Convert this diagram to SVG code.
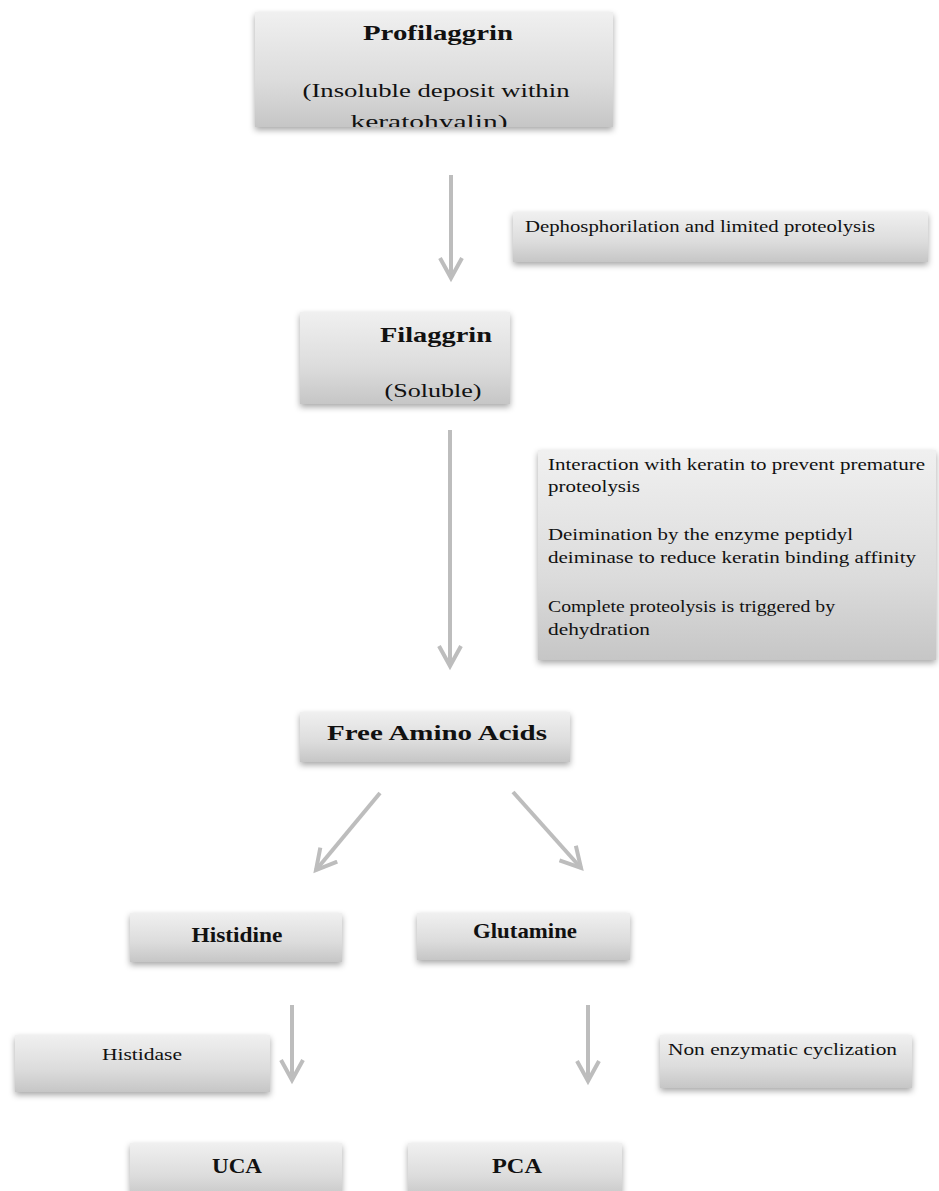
<svg xmlns="http://www.w3.org/2000/svg" width="939" height="1191" viewBox="0 0 939 1191">
<style>
.box{fill:url(#g);filter:url(#sh)}
.t{font-family:"Liberation Serif","Times New Roman",serif;fill:#111}
.b{font-weight:bold;font-size:21px}
.r{font-size:19px}
.s{font-size:16px}
.c{stroke:#bdbdbd;stroke-width:4;fill:none;marker-end:url(#ah)}
</style>
<defs>
<linearGradient id="g" x1="0" y1="0" x2="0" y2="1">
<stop offset="0" stop-color="#f0f0f0"/>
<stop offset="0.6" stop-color="#dcdcdc"/>
<stop offset="1" stop-color="#c6c6c6"/>
</linearGradient>
<filter id="sh" x="-10%" y="-20%" width="120%" height="150%">
<feDropShadow dx="0" dy="3" stdDeviation="3" flood-color="#000" flood-opacity="0.35"/>
</filter>
<marker id="ah" markerUnits="userSpaceOnUse" markerWidth="26" markerHeight="26" viewBox="0 0 26 26" refX="21" refY="13" orient="auto">
<path d="M1,2 L21,13 L1,24" fill="none" stroke="#bdbdbd" stroke-width="4"/>
</marker>
<clipPath id="cp1"><rect x="255" y="12" width="358" height="115"/></clipPath>
</defs>
<g id="connectors">
<line class="c" x1="451" y1="175" x2="451" y2="278"/>
<line class="c" x1="450" y1="430" x2="450" y2="666"/>
<line class="c" x1="380" y1="793" x2="316" y2="870"/>
<line class="c" x1="513" y1="792" x2="581" y2="868"/>
<line class="c" x1="292" y1="1005" x2="292" y2="1080"/>
<line class="c" x1="588" y1="1005" x2="588" y2="1081"/>
</g>
<g id="profilaggrin">
<rect class="box" x="255" y="12" width="358" height="115"/>
<text class="t b" x="438" y="40" text-anchor="middle" textLength="150" lengthAdjust="spacingAndGlyphs">Profilaggrin</text>
<g clip-path="url(#cp1)">
<text class="t r" x="436" y="97" text-anchor="middle" textLength="267" lengthAdjust="spacingAndGlyphs">(Insoluble deposit within</text>
<text class="t r" x="429" y="128" text-anchor="middle" textLength="157" lengthAdjust="spacingAndGlyphs">keratohyalin)</text>
</g>
</g>
<g id="dephos">
<rect class="box" x="513" y="212" width="415" height="50"/>
<text class="t s" x="525" y="232" textLength="350" lengthAdjust="spacingAndGlyphs">Dephosphorilation and limited proteolysis</text>
</g>
<g id="filaggrin">
<rect class="box" x="300" y="312" width="210" height="92"/>
<text class="t b" x="436" y="342" text-anchor="middle" textLength="112" lengthAdjust="spacingAndGlyphs">Filaggrin</text>
<text class="t r" x="433" y="397" text-anchor="middle" textLength="97" lengthAdjust="spacingAndGlyphs">(Soluble)</text>
</g>
<g id="interaction">
<rect class="box" x="538" y="450" width="398" height="210"/>
<text class="t s" x="548" y="470" textLength="377" lengthAdjust="spacingAndGlyphs">Interaction with keratin to prevent premature</text>
<text class="t s" x="548" y="492" textLength="92" lengthAdjust="spacingAndGlyphs">proteolysis</text>
<text class="t s" x="548" y="540" textLength="305" lengthAdjust="spacingAndGlyphs">Deimination by the enzyme peptidyl</text>
<text class="t s" x="548" y="563" textLength="368" lengthAdjust="spacingAndGlyphs">deiminase to reduce keratin binding affinity</text>
<text class="t s" x="548" y="612" textLength="287" lengthAdjust="spacingAndGlyphs">Complete proteolysis is triggered by</text>
<text class="t s" x="548" y="635" textLength="102" lengthAdjust="spacingAndGlyphs">dehydration</text>
</g>
<g id="free-amino-acids">
<rect class="box" x="300" y="712" width="270" height="50"/>
<text class="t b" x="437" y="740" text-anchor="middle" textLength="220" lengthAdjust="spacingAndGlyphs">Free Amino Acids</text>
</g>
<g id="histidine">
<rect class="box" x="130" y="913" width="212" height="49"/>
<text class="t b" x="237" y="942" text-anchor="middle" textLength="91" lengthAdjust="spacingAndGlyphs">Histidine</text>
</g>
<g id="glutamine">
<rect class="box" x="417" y="913" width="213" height="47"/>
<text class="t b" x="525" y="938" text-anchor="middle" textLength="104" lengthAdjust="spacingAndGlyphs">Glutamine</text>
</g>
<g id="histidase">
<rect class="box" x="15" y="1035" width="255" height="57"/>
<text class="t s" x="142" y="1060" text-anchor="middle" textLength="80" lengthAdjust="spacingAndGlyphs">Histidase</text>
</g>
<g id="cyclization">
<rect class="box" x="660" y="1035" width="252" height="53"/>
<text class="t s" x="668" y="1055" textLength="229" lengthAdjust="spacingAndGlyphs">Non enzymatic cyclization</text>
</g>
<g id="uca">
<rect class="box" x="130" y="1143" width="212" height="55"/>
<text class="t b" x="237" y="1173" text-anchor="middle" textLength="50" lengthAdjust="spacingAndGlyphs">UCA</text>
</g>
<g id="pca">
<rect class="box" x="408" y="1143" width="214" height="55"/>
<text class="t b" x="517" y="1173" text-anchor="middle" textLength="50" lengthAdjust="spacingAndGlyphs">PCA</text>
</g>
</svg>
